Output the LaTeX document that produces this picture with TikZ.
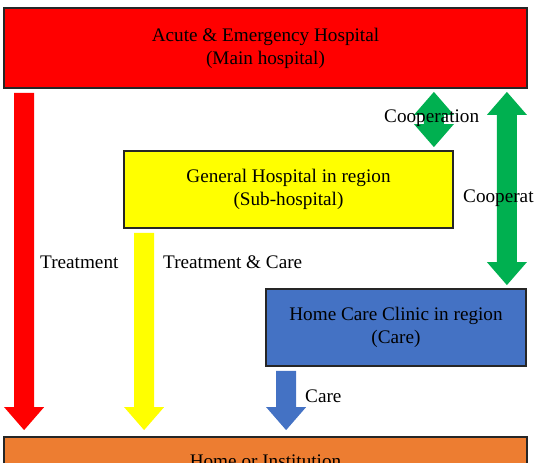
\documentclass[tikz,border=0pt]{standalone}
\usepackage{fontspec}
\setmainfont{Liberation Serif}
\usetikzlibrary{calc}
\definecolor{AcuteRed}{RGB}{255,0,0}
\definecolor{GeneralYellow}{RGB}{255,255,0}
\definecolor{ClinicBlue}{RGB}{68,114,196}
\definecolor{HomeOrange}{RGB}{237,125,49}
\definecolor{CoopGreen}{RGB}{0,176,80}
\tikzset{
  unit/.style={rectangle, draw=black!85, line width=1.8pt, align=center,
    inner sep=0pt, font=\fontsize{19.2}{23}\selectfont},
  lbl/.style={anchor=base west, inner sep=0pt, font=\fontsize{19.2}{23}\selectfont},
}
% block arrow downwards from one box to the next
\newcommand{\downflow}[3]{%
  \path ($(#2.south west)+(21,4)$) coordinate (s) (s |- #3.north) coordinate (e);
  \fill[#1] ($(s)+(-10,0)$) -- ($(s)+(10,0)$) -- ($(e)+(10,-29)$) -- ($(e)+(20,-29)$)
    -- ($(e)+(0,-6)$) -- ($(e)+(-20,-29)$) -- ($(e)+(-10,-29)$) -- cycle;}
% block arrow with two heads between two boxes
\newcommand{\bothflow}[3]{%
  \path ($(#3.north east)+(-20,-3)$) coordinate (b) (b |- #2.south) ++(0,3) coordinate (t);
  \fill[#1] (t) -- ($(t)+(20,23)$) -- ($(t)+(10,23)$) -- ($(b)+(10,-23)$) -- ($(b)+(20,-23)$)
    -- (b) -- ($(b)+(-20,-23)$) -- ($(b)+(-10,-23)$) -- ($(t)+(-10,23)$) -- ($(t)+(-20,23)$) -- cycle;}
\begin{document}
\begin{tikzpicture}[x=1pt, y=-1pt]
  \useasboundingbox (0,0) rectangle (534,462);
  \clip (0,0) rectangle (534,462);
  \node[unit, fill=AcuteRed, minimum width=523pt, minimum height=80pt] (acute) at (265.5,48)
    {Acute \& Emergency Hospital\\(Main hospital)};
  \node[unit, fill=GeneralYellow, minimum width=329pt, minimum height=77pt] (general) at (288.5,189.5)
    {General Hospital in region\\(Sub-hospital)};
  \node[unit, fill=ClinicBlue, minimum width=260pt, minimum height=77pt] (clinic) at (396,327.5)
    {Home Care Clinic in region\\(Care)};
  \node[unit, fill=HomeOrange, minimum width=523pt, minimum height=48pt] (home) at (265.5,461)
    {Home or Institution};

  \downflow{AcuteRed}{acute}{home}
  \downflow{GeneralYellow}{general}{home}
  \downflow{ClinicBlue}{clinic}{home}
  \bothflow{CoopGreen}{acute}{general}
  \bothflow{CoopGreen}{acute}{clinic}

  \node[lbl] (treat) at (40,268) {Treatment};
  \node[lbl] (treatcare) at (163,268) {Treatment \& Care};
  \node[lbl] (care) at (305,402) {Care};
  \node[lbl] (coopshort) at (384,123) {Cooperation};
  \node[lbl] (cooplong) at (463,202) {Cooperation};
\end{tikzpicture}
\end{document}
